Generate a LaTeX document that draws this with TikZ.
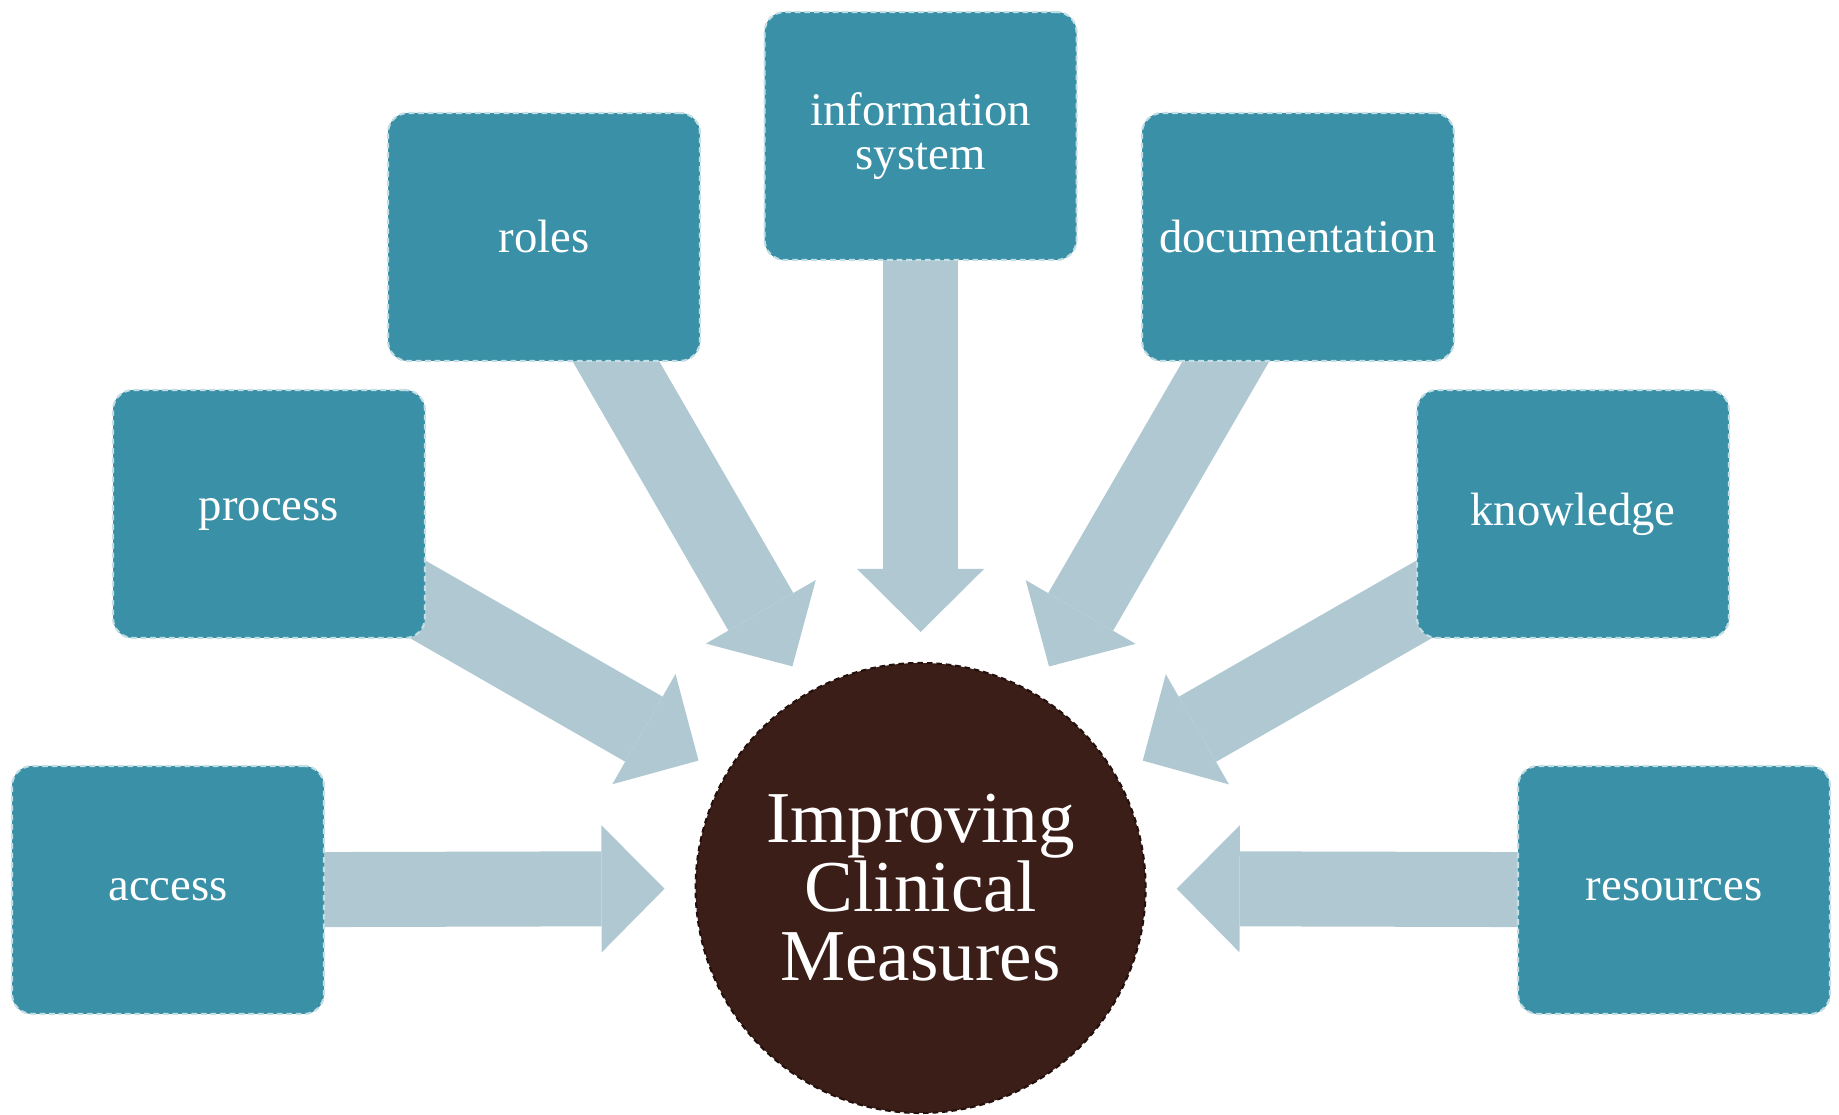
\documentclass[tikz,border=0pt]{standalone}
\usepackage{fontspec}
\setmainfont{Liberation Serif}
\usepackage{xcolor}
\usepackage{tikz}
\usetikzlibrary{arrows.meta}
\usetikzlibrary{backgrounds}
\definecolor{boxteal}{RGB}{58,145,167}
\definecolor{hubbrown}{RGB}{60,30,24}
\definecolor{hubedge}{RGB}{35,16,12}
\definecolor{flowblue}{RGB}{175,200,210}
\tikzstyle{factor} = [rectangle, rounded corners=0.2cm, fill=boxteal, draw=white!70!boxteal, line width=0.6pt, dash pattern=on 1.6pt off 1.1pt, minimum width=3.12cm, minimum height=2.48cm, text=white, align=center, font=\fontsize{13.3}{12.3}\selectfont]
\tikzstyle{hub} = [circle, fill=hubbrown, draw=hubedge, line width=0.6pt, dash pattern=on 1.6pt off 1.1pt, minimum size=4.5cm, inner sep=0, text=white, align=center, font=\fontsize{20.8}{19.6}\selectfont]
\tikzstyle{flow} = [line width=0.75cm, draw=flowblue, -{Triangle[width=1.27cm, length=0.63cm, line width=0pt]}, shorten >=0.3cm]

\begin{document}
\begin{tikzpicture}
\useasboundingbox (0,0) rectangle (18.39,11.15);
\node [hub] (C) at (9.206, 2.27) {Improving\\Clinical\\Measures};
\node [factor] (A) at (1.68, 2.25) {access};
\node [factor] (P) at (2.69, 6.01) {process};
\node [factor] (R) at (5.44, 8.78) {roles};
\node [factor] (I) at (9.206, 9.79) {information\\system};
\node [factor] (D) at (12.98, 8.78) {documentation};
\node [factor] (K) at (15.73, 6.01) {knowledge};
\node [factor] (S) at (16.74, 2.25) {resources};
% the wide arrows sit under the boxes
\begin{scope}[on background layer]
\draw [flow] (A.center) -- (C);
\draw [flow] (P.center) -- (C);
\draw [flow] (R.center) -- (C);
\draw [flow] (I.center) -- (C);
\draw [flow] (D.center) -- (C);
\draw [flow] (K.center) -- (C);
\draw [flow] (S.center) -- (C);
\end{scope}
\end{tikzpicture}
\end{document}
